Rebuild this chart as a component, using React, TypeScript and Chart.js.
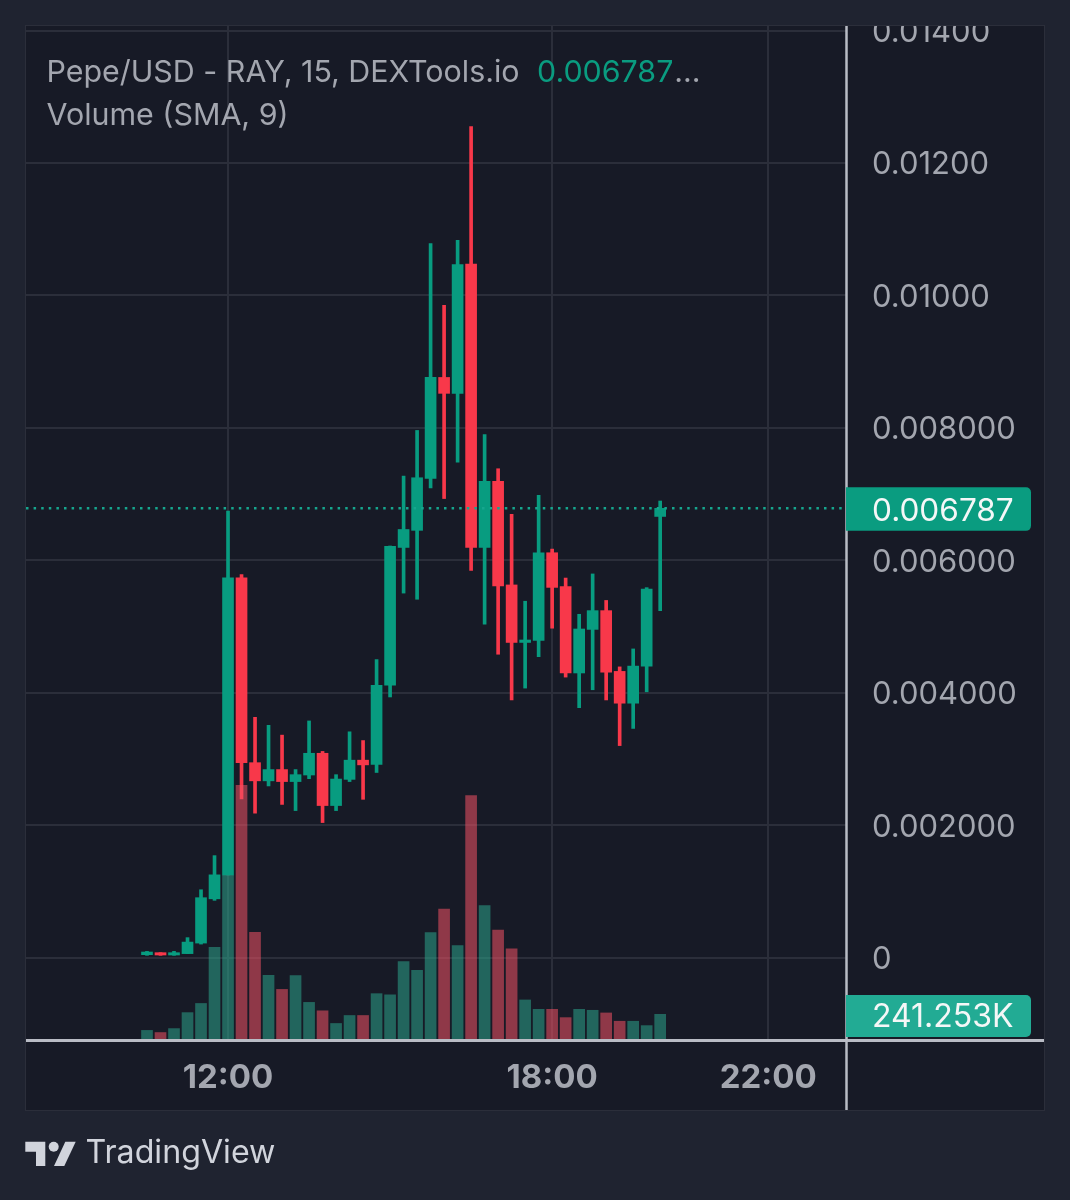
import React, { useEffect, useRef } from "react";
import { Chart, registerables } from "chart.js";

Chart.register(...registerables);

const times = ["10:30","10:45","11:00","11:15","11:30","11:45","12:00","12:15","12:30","12:45","13:00","13:15","13:30","13:45","14:00","14:15","14:30","14:45","15:00","15:15","15:30","15:45","16:00","16:15","16:30","16:45","17:00","17:15","17:30","17:45","18:00","18:15","18:30","18:45","19:00","19:15","19:30","19:45","20:00"];
const opens = [0.00005,0.00008,0.000045,0.000066,0.000225,0.000893,0.001255,0.005737,0.002948,0.002674,0.002844,0.002663,0.002762,0.00309,0.002301,0.002696,0.002986,0.002921,0.004117,0.006197,0.006455,0.007237,0.008763,0.008523,0.010474,0.006197,0.007194,0.005631,0.004763,0.004794,0.006117,0.005606,0.004302,0.00496,0.005243,0.004326,0.003846,0.004406,0.006665];
const closes = [0.00009,0.000045,0.00008,0.00024,0.00091,0.001255,0.005737,0.002948,0.002674,0.002844,0.002663,0.002767,0.00309,0.002301,0.002701,0.002986,0.002915,0.004115,0.006215,0.006468,0.007249,0.008763,0.008523,0.010468,0.006197,0.007194,0.005618,0.004763,0.0048,0.006117,0.005594,0.004302,0.004966,0.005243,0.004314,0.003846,0.004406,0.005569,0.006787];
const highs = [0.0001,0.00008,0.0001,0.000307,0.00103,0.001545,0.006745,0.005786,0.003633,0.003512,0.003364,0.002844,0.003578,0.003118,0.002767,0.003414,0.003282,0.004504,0.006219,0.007274,0.007963,0.010782,0.009852,0.010831,0.012548,0.007902,0.007385,0.006695,0.005385,0.006985,0.006172,0.005735,0.005188,0.005797,0.005397,0.004394,0.004665,0.00559,0.006898];
const lows = [0.00004,0.00004,0.00004,0.000066,0.00021,0.00087,0.001255,0.0024,0.002186,0.002597,0.002318,0.002225,0.002707,0.002044,0.002225,0.002663,0.002395,0.0028,0.00394,0.005508,0.005415,0.007095,0.006935,0.007483,0.005852,0.00504,0.004585,0.003895,0.004074,0.004548,0.004978,0.00424,0.003778,0.004049,0.003895,0.003206,0.003465,0.004018,0.005243];
const volumes = [90,70,107,257,343,871,1546,2391,1010,608,475,605,353,274,155,230,230,435,424,736,654,1008,1230,886,2295,1262,1033,855,376,288,288,210,288,279,254,176,176,135,241.253];

const priceTicks = [0,0.002,0.004,0.006,0.008,0.01,0.012,0.014];
const priceTickLabels = ["0","0.002000","0.004000","0.006000","0.008000","0.01000","0.01200","0.01400"];
const timeTicks = [12,18,22];
const timeTickLabels = ["12:00","18:00","22:00"];
const lastPrice = 0.006787;

const GREEN = "#089c80";
const RED = "#f8384a";
const VOL_GREEN = "rgba(44,166,140,0.54)";
const VOL_RED = "rgba(242,82,100,0.55)";
const OUTER = "#1f2330";
const PANE = "#171a26";
const GRID = "#2b2e3a";
const AXIS = "#b9bcc5";
const TEXT = "#a3a6af";
const FONT = "Inter, 'Noto Sans', sans-serif";

const toHour = (t: string) => {
  const [h, m] = t.split(":").map(Number);
  return h + m / 60;
};
const xs = times.map(toHour);

const chrome = {
  id: "chrome",
  beforeDraw(chart: any) {
    const c = chart.ctx;
    c.save();
    c.fillStyle = OUTER;
    c.fillRect(0, 0, 1070, 1200);
    c.fillStyle = PANE;
    c.fillRect(26, 26, 1018, 1084);
    c.restore();
  },
  afterDraw(chart: any) {
    const c = chart.ctx;
    const y = chart.scales.y;
    c.save();
    // the top of the pane clips the topmost tick label
    c.fillStyle = OUTER;
    c.fillRect(848, 0, 222, 25);
    c.strokeStyle = GRID;
    c.lineWidth = 1;
    c.strokeRect(25.5, 25.5, 1019, 1085);

    // axis lines
    c.strokeStyle = AXIS;
    c.lineWidth = 2.5;
    c.beginPath();
    c.moveTo(846.5, 26);
    c.lineTo(846.5, 1110);
    c.stroke();
    c.lineWidth = 3;
    c.beginPath();
    c.moveTo(26, 1040.5);
    c.lineTo(1044, 1040.5);
    c.stroke();

    // badges
    const badge = (top: number, h: number, col: string, text: string, size: number, dy: number) => {
      c.fillStyle = col;
      c.beginPath();
      c.roundRect(846, top, 185, h, [0, 5, 5, 0]);
      c.fill();
      c.fillStyle = "#f4f7f7";
      c.font = `${size}px ${FONT}`;
      c.textAlign = "left";
      c.textBaseline = "middle";
      c.fillText(text, 872, top + h / 2 + dy);
    };
    const py = y.getPixelForValue(lastPrice);
    badge(py - 21, 43.5, "#0a9c80", lastPrice.toFixed(6), 31.6, 2.5);
    badge(995, 42, "#22ab94", `${volumes[volumes.length - 1].toFixed(3)}K`, 32, 1);

    // legend
    c.textBaseline = "middle";
    c.textAlign = "left";
    c.font = `30.4px ${FONT}`;
    c.fillStyle = TEXT;
    const title = "Pepe/USD - RAY, 15, DEXTools.io";
    c.fillText(title, 46.5, 73);
    c.fillStyle = "#0a9c80";
    const val = lastPrice.toFixed(6);
    c.fillText(val, 537, 73);
    const w = c.measureText(val).width;
    c.fillStyle = TEXT;
    c.fillText("...", 538 + w, 73);
    c.fillText("Volume (SMA, 9)", 46.5, 116);

    // TradingView mark
    c.fillStyle = "#d1d4dc";
    c.beginPath();
    c.moveTo(25.3, 1141.7);
    c.lineTo(45.3, 1141.7);
    c.lineTo(45.3, 1166);
    c.lineTo(36, 1166);
    c.lineTo(36, 1151.7);
    c.lineTo(25.3, 1151.7);
    c.closePath();
    c.fill();
    c.beginPath();
    c.arc(53.7, 1146.7, 5, 0, Math.PI * 2);
    c.fill();
    c.beginPath();
    c.moveTo(75.7, 1141.7);
    c.lineTo(64.3, 1166);
    c.lineTo(54, 1166);
    c.lineTo(65.3, 1141.7);
    c.closePath();
    c.fill();
    c.font = `32.2px ${FONT}`;
    c.fillText("TradingView", 85.5, 1153);
    c.restore();
  },
};

export default function App() {
  const ref = useRef<HTMLCanvasElement | null>(null);
  useEffect(() => {
    document.body.style.margin = "0";
    document.body.style.background = OUTER;
    const chart = new Chart(ref.current as HTMLCanvasElement, {
      type: "bar",
      plugins: [chrome],
      data: {
        datasets: [
          {
            type: "line",
            label: "Last price",
            data: [{ x: 8.26, y: lastPrice }, { x: 23.44, y: lastPrice }],
            borderColor: "#16a68e",
            borderWidth: 2.5,
            borderDash: [2.5, 5.1],
            pointRadius: 0,
            yAxisID: "y",
            order: 0,
          },
          {
            label: "Volume",
            data: xs.map((x, i) => ({ x, y: volumes[i] })),
            backgroundColor: closes.map((v, i) => (v >= opens[i] ? VOL_GREEN : VOL_RED)),
            barThickness: 11,
            grouped: false,
            yAxisID: "v",
            order: 1,
          },
          {
            label: "Body",
            data: xs.map((x, i) => ({ x, y: [opens[i], closes[i]] })),
            backgroundColor: closes.map((v, i) => (v >= opens[i] ? GREEN : RED)),
            barThickness: 11,
            grouped: false,
            yAxisID: "y",
            order: 2,
          },
          {
            label: "Wick",
            data: xs.map((x, i) => ({ x, y: [lows[i], highs[i]] })),
            backgroundColor: closes.map((v, i) => (v >= opens[i] ? GREEN : RED)),
            barThickness: 3,
            grouped: false,
            yAxisID: "y",
            order: 3,
          },
        ] as any,
      },
      options: {
        responsive: false,
        animation: false,
        devicePixelRatio: 1,
        layout: { padding: { left: 26, right: 26, top: 26, bottom: 90 } },
        plugins: { legend: { display: false }, tooltip: { enabled: false } },
        scales: {
          x: {
            type: "linear",
            offset: false,
            min: 8.26,
            max: 23.44,
            afterBuildTicks(s: any) {
              s.ticks = timeTicks.map((value) => ({ value }));
            },
            afterFit(s: any) {
              s.height = 70;
              s.paddingLeft = 0;
              s.paddingRight = 0;
            },
            ticks: {
              autoSkip: false,
              maxRotation: 0,
              padding: 18,
              color: TEXT,
              font: { family: FONT, size: 33, weight: "bold" },
              callback: (_v: any, i: number) => timeTickLabels[i],
            },
            grid: { color: GRID, lineWidth: 2, drawTicks: false, offset: false },
            border: { display: false },
          },
          y: {
            type: "linear",
            position: "right",
            min: -0.001238,
            max: 0.014068,
            afterBuildTicks(s: any) {
              s.ticks = priceTicks.map((value) => ({ value }));
            },
            afterFit(s: any) {
              s.width = 198;
              s.paddingTop = 0;
              s.paddingBottom = 0;
            },
            ticks: {
              autoSkip: false,
              padding: 26,
              labelOffset: 2,
              color: TEXT,
              font: { family: FONT, size: 31 },
              callback: (_v: any, i: number) => priceTickLabels[i],
            },
            grid: { color: GRID, lineWidth: 2, drawTicks: false },
            border: { display: false },
          },
          v: {
            type: "linear",
            display: false,
            min: 0,
            max: 9520,
          },
        },
      } as any,
    });
    return () => chart.destroy();
  }, []);
  return (
    <div style={{ position: "absolute", left: 0, top: 0, width: 1070, height: 1200 }}>
      <canvas ref={ref} width={1070} height={1200} style={{ display: "block" }} />
    </div>
  );
}
